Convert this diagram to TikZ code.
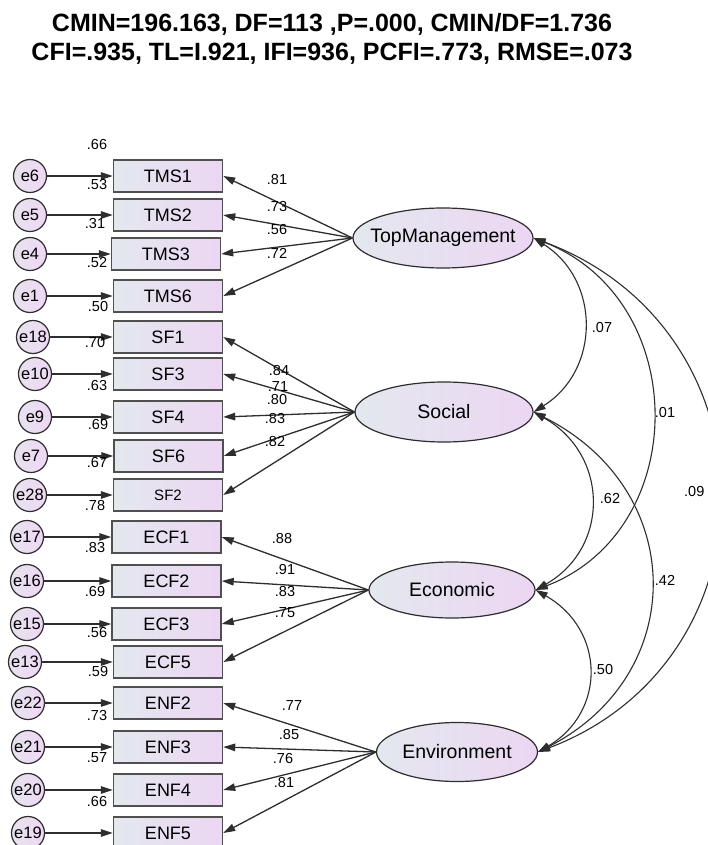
\documentclass[tikz,border=0pt]{standalone}
\usepackage{fontspec}
\setmainfont{Liberation Sans}
\usetikzlibrary{shapes.geometric,arrows.meta}
\definecolor{gl}{HTML}{E3E8EE}
\definecolor{gr}{HTML}{ECD6F3}
\definecolor{el}{HTML}{E8E2EF}
\definecolor{er}{HTML}{EED8F3}
\definecolor{ln}{HTML}{2E2E2E}
\definecolor{boxc}{HTML}{505050}
\begin{document}
\begin{tikzpicture}[x=1pt,y=-1pt,
  obs/.style={rectangle, draw=boxc, line width=1.4pt, left color=gl, right color=gr,
    minimum width=109pt, minimum height=32pt, inner sep=0pt, font=\fontsize{18}{20}\selectfont},
  lat/.style={ellipse, draw=ln, line width=1.2pt, left color=gl, right color=gr, inner sep=0pt},
  latlab/.style={font=\fontsize{19.5}{22}\selectfont},
  err/.style={circle, draw=ln, line width=1.2pt, left color=el, right color=er,
    minimum size=33pt, inner sep=0pt, font=\fontsize{16.5}{18}\selectfont},
  num/.style={inner sep=0pt, font=\fontsize{14.5}{16}\selectfont},
  ttl/.style={inner sep=0pt, anchor=base, font=\bfseries\fontsize{25}{29}\selectfont},
  arr/.style={draw=ln, line width=1.3pt, -{Triangle[length=12pt,width=7.5pt]}},
  cov/.style={draw=ln, line width=1.1pt, {Triangle[length=12pt,width=7.5pt]}-{Triangle[length=12pt,width=7.5pt]}},
]
\useasboundingbox (0,0) rectangle (707,845);
\fill[white] (0,0) rectangle (707,845);

% title
\node[ttl] (t1) at (332,32) {CMIN=196.163, DF=113 ,P=.000, CMIN/DF=1.736};
\node[ttl] (t2) at (332,61) {CFI=.935, TL=I.921, IFI=936, PCFI=.773, RMSE=.073};

% observed variables
\node[obs] (TMS1) at (168,176) {TMS1};
\node[obs] (TMS2) at (168,215) {TMS2};
\node[obs] (TMS3) at (166,254) {TMS3};
\node[obs] (TMS6) at (168,296) {TMS6};
\node[obs] (SF1) at (168,337) {SF1};
\node[obs] (SF3) at (168,374) {SF3};
\node[obs] (SF4) at (168,417) {SF4};
\node[obs] (SF6) at (168.5,456) {SF6};
\node[obs, font=\fontsize{15}{17}\selectfont] (SF2) at (168,495) {SF2};
\node[obs] (ECF1) at (166.5,537) {ECF1};
\node[obs] (ECF2) at (166.5,581) {ECF2};
\node[obs] (ECF3) at (166.5,624) {ECF3};
\node[obs] (ECF5) at (168,662) {ECF5};
\node[obs] (ENF2) at (168,703) {ENF2};
\node[obs] (ENF3) at (168,747) {ENF3};
\node[obs] (ENF4) at (168,790) {ENF4};
\node[obs] (ENF5) at (168,833) {ENF5};

% errors
\node[err] (e6) at (30,176) {e6};
\node[err] (e5) at (30,215) {e5};
\node[err] (e4) at (30,254) {e4};
\node[err] (e1) at (30,296) {e1};
\node[err] (e18) at (33,337) {e18};
\node[err] (e10) at (35,374) {e10};
\node[err] (e9) at (35,417) {e9};
\node[err] (e7) at (31,456) {e7};
\node[err] (e28) at (30,495) {e28};
\node[err] (e17) at (27,537) {e17};
\node[err] (e16) at (27,581) {e16};
\node[err] (e15) at (27,624) {e15};
\node[err] (e13) at (25,662) {e13};
\node[err] (e22) at (28,703) {e22};
\node[err] (e21) at (28,747) {e21};
\node[err] (e20) at (28,790) {e20};
\node[err] (e19) at (28,833) {e19};

% latent variables
\node[lat, minimum width=180pt, minimum height=60pt] (TM) at (443,238) {};
\node[latlab] (TMl) at (TM.center) {TopManagement};
\node[lat, minimum width=178pt, minimum height=60pt] (Soc) at (444,412) {};
\node[latlab] (Socl) at (Soc.center) {Social};
\node[lat, minimum width=166pt, minimum height=56pt] (Eco) at (452,590) {};
\node[latlab] (Ecol) at (Eco.center) {Economic};
\node[lat, minimum width=161pt, minimum height=59pt] (Env) at (457,752) {};
\node[latlab] (Envl) at (Env.center) {Environment};

% error arrows
\foreach \e/\b in {e6/TMS1,e5/TMS2,e4/TMS3,e1/TMS6,e18/SF1,e10/SF3,e9/SF4,e7/SF6,e28/SF2,
  e17/ECF1,e16/ECF2,e15/ECF3,e13/ECF5,e22/ENF2,e21/ENF3,e20/ENF4,e19/ENF5}
  \draw[arr] (\e) -- (\b);

% loadings
\foreach \b in {TMS1,TMS2,TMS3,TMS6} \draw[arr] (TM.west) -- (\b.east);
\foreach \b in {SF1,SF3,SF4,SF6,SF2} \draw[arr] (Soc.west) -- (\b.east);
\foreach \b in {ECF1,ECF2,ECF3,ECF5} \draw[arr] (Eco.west) -- (\b.east);
\foreach \b in {ENF2,ENF3,ENF4,ENF5} \draw[arr] (Env.west) -- (\b.east);

% covariances
\draw[cov] (TM.east) .. controls +(67,42) and +(67,-42) .. (Soc.east);
\draw[cov] (TM.east) .. controls +(158,62) and +(156,-60) .. (Eco.east);
\draw[cov] (TM.east) .. controls +(246,92) and +(242,-92) .. (Env.east);
\draw[cov] (Soc.east) .. controls +(76,43) and +(74,-42) .. (Eco.east);
\draw[cov] (Soc.east) .. controls +(155,78) and +(151,-77) .. (Env.east);
\draw[cov] (Eco.east) .. controls +(70,40) and +(68,-40) .. (Env.east);

% covariance labels
\node[num] (c1) at (602,328) {.07};
\node[num] (c2) at (665,413) {.01};
\node[num, anchor=west] (c3) at (684,492) {.09};
\node[num] (c4) at (610,499) {.62};
\node[num] (c5) at (665,580) {.42};
\node[num] (c6) at (603,670) {.50};

% loading labels
\node[num] (l1) at (277,180) {.81};
\node[num] (l2) at (277,207) {.73};
\node[num] (l3) at (277,230) {.56};
\node[num] (l4) at (277,253) {.72};
\node[num] (l5) at (279,371) {.84};
\node[num] (l6) at (278,387) {.71};
\node[num] (l7) at (277,400) {.80};
\node[num] (l8) at (275,419) {.83};
\node[num] (l9) at (275,442) {.82};
\node[num] (l10) at (282,539) {.88};
\node[num] (l11) at (285,570) {.91};
\node[num] (l12) at (285,592) {.83};
\node[num] (l13) at (285,613) {.75};
\node[num] (l14) at (292,706) {.77};
\node[num] (l15) at (289,734) {.85};
\node[num] (l16) at (283,758) {.76};
\node[num] (l17) at (284,782) {.81};

% R-squared labels
\node[num] (r1) at (97,145) {.66};
\node[num] (r2) at (97,185) {.53};
\node[num] (r3) at (95,224) {.31};
\node[num] (r4) at (97,263) {.52};
\node[num] (r5) at (98,307) {.50};
\node[num] (r6) at (95,343) {.70};
\node[num] (r7) at (97,386) {.63};
\node[num] (r8) at (98,425) {.69};
\node[num] (r9) at (97,463) {.67};
\node[num] (r10) at (95,506) {.78};
\node[num] (r11) at (95,548) {.83};
\node[num] (r12) at (95,592) {.69};
\node[num] (r13) at (97,633) {.56};
\node[num] (r14) at (98,672) {.59};
\node[num] (r15) at (97,715) {.73};
\node[num] (r16) at (97,758) {.57};
\node[num] (r17) at (97,801) {.66};
\end{tikzpicture}
\end{document}
